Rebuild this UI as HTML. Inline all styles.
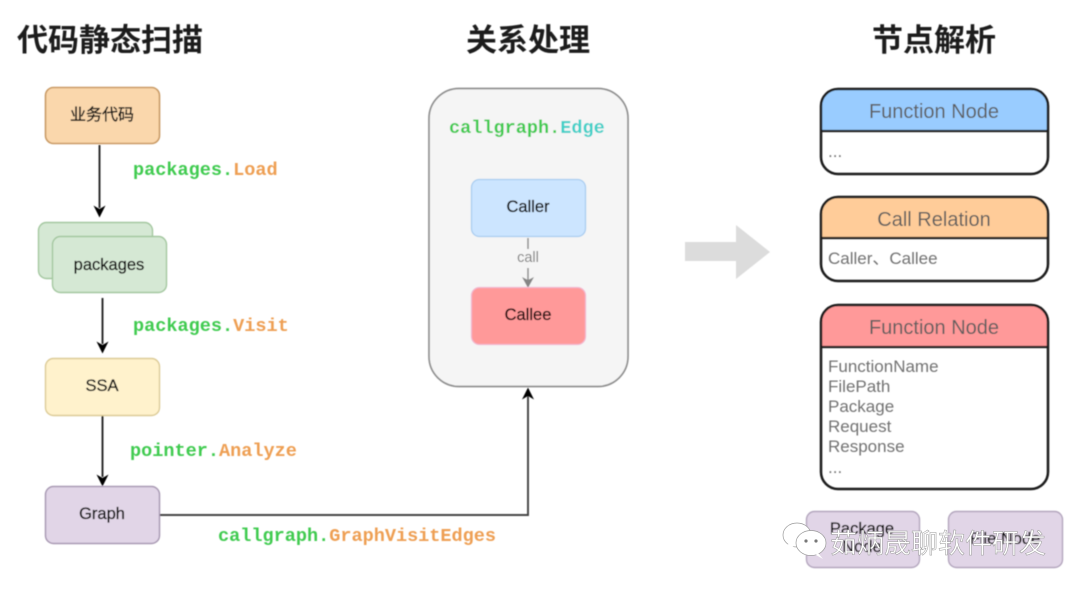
<!DOCTYPE html>
<html><head><meta charset="utf-8"><style>
html,body{margin:0;padding:0;background:#fff;width:1080px;height:590px;overflow:hidden}
svg{display:block}
text{font-family:"Liberation Sans","Noto Sans CJK SC",sans-serif}
.t{font-size:31px;font-weight:700;fill:#1c1c1c;text-anchor:middle;font-family:"Noto Sans CJK SC","Liberation Sans",sans-serif}
.m{font-family:"Liberation Mono",monospace;font-size:18.55px;font-weight:700}
.g{fill:#3fcb50}.o{fill:#ee9f52}.c{fill:#3fd0c8}
.n{font-size:16.5px;fill:#111;stroke:#111;stroke-width:.35px;text-anchor:middle}
.h{font-size:20px;fill:#5f5f5f;text-anchor:middle}
.b{font-size:17px;fill:#727272}
</style></head><body>
<svg width="1080" height="590" viewBox="0 0 1080 590" xmlns="http://www.w3.org/2000/svg">
<defs><filter id="s" x="-5%" y="-5%" width="110%" height="110%"><feGaussianBlur stdDeviation="0.45"/></filter></defs>
<rect width="1080" height="590" fill="#fff"/>
<g filter="url(#s)">
<text class="t" x="110" y="51">代码静态扫描</text>
<text class="t" x="528" y="51">关系处理</text>
<text class="t" x="934" y="51">节点解析</text>

<rect x="45.5" y="87.5" width="114" height="56" rx="8" fill="#fad7ac" stroke="#c99a63" stroke-width="1.6"/>
<text class="n" x="102" y="120" style="font-family:'Noto Sans CJK SC',sans-serif;font-size:16px">业务代码</text>
<path d="M99.5 145V208" stroke="#222" stroke-width="1.9" fill="none"/>
<path d="M93.5 205.500L99.5 209L105.500 205.500L99.5 217.500Z" fill="#000"/>
<text class="m" x="133" y="175"><tspan class="g">packages.</tspan><tspan class="o">Load</tspan></text>

<rect x="38.5" y="222.5" width="114" height="56" rx="8" fill="#d5e8d4" stroke="#a3c79f" stroke-width="1.4"/>
<rect x="52.5" y="236.5" width="114" height="56" rx="8" fill="#d5e8d4" stroke="#a3c79f" stroke-width="1.4"/>
<text class="n" x="109" y="270">packages</text>
<path d="M102.5 298V344" stroke="#222" stroke-width="1.9" fill="none"/>
<path d="M96.500 341.500L102.5 345L108.500 341.500L102.5 353.500Z" fill="#000"/>
<text class="m" x="133" y="331"><tspan class="g">packages.</tspan><tspan class="o">Visit</tspan></text>

<rect x="45.5" y="358.5" width="114" height="57" rx="8" fill="#fff2cc" stroke="#dccb96" stroke-width="1.4"/>
<text class="n" x="102" y="391">SSA</text>
<path d="M102.5 416V477" stroke="#222" stroke-width="1.9" fill="none"/>
<path d="M96.500 474.500L102.5 478L108.500 474.500L102.5 486.500Z" fill="#000"/>
<text class="m" x="130" y="456"><tspan class="g">pointer.</tspan><tspan class="o">Analyze</tspan></text>

<rect x="45.5" y="486.5" width="114" height="57" rx="8" fill="#e1d5e7" stroke="#a899b3" stroke-width="1.5"/>
<text class="n" x="102" y="519">Graph</text>
<path d="M160 515H528V396" stroke="#444" stroke-width="1.9" fill="none"/>
<path d="M522 399.500L528 396L534 399.500L528 387.500Z" fill="#000"/>
<text class="m" x="218" y="541"><tspan class="g">callgraph.</tspan><tspan class="o">GraphVisitEdges</tspan></text>

<rect x="429" y="88.5" width="199" height="298" rx="30" fill="#f5f5f5" stroke="#8f8f8f" stroke-width="1.7"/>
<text class="m" x="449" y="133"><tspan class="g">callgraph.</tspan><tspan class="c">Edge</tspan></text>
<rect x="471.5" y="179.5" width="114" height="57" rx="8" fill="#cce5ff" stroke="#a9cdf0" stroke-width="1.3"/>
<text class="n" x="528" y="212">Caller</text>
<path d="M528 238V249M528 268V281" stroke="#8a8a8a" stroke-width="1.5" fill="none"/>
<path d="M522 277L528 280L534 277L528 288Z" fill="#858585"/>
<text x="528" y="262" font-size="14.500" fill="#808080" text-anchor="middle">call</text>
<rect x="471.5" y="287.5" width="114" height="57" rx="8" fill="#ff9999" stroke="#f2b8d0" stroke-width="1.3"/>
<text class="n" x="528" y="320" style="fill:#2a0f0f;stroke:#2a0f0f">Callee</text>

<path d="M685 242H736V225L770 252L736 279V261H685Z" fill="#dcdcdc"/>

<path d="M821 131V106a17 17 0 0 1 17-17H1031a17 17 0 0 1 17 17V131Z" fill="#99ccff"/>
<rect x="821" y="89" width="227" height="85" rx="17" fill="none" stroke="#1a1a1a" stroke-width="2.5"/>
<path d="M821 131H1048" stroke="#1a1a1a" stroke-width="2.2"/>
<text class="h" x="934" y="118">Function Node</text>
<text class="b" x="828" y="157">...</text>

<path d="M821 238V214a17 17 0 0 1 17-17H1031a17 17 0 0 1 17 17V238Z" fill="#ffcc99"/>
<rect x="821" y="197" width="227" height="84" rx="17" fill="none" stroke="#1a1a1a" stroke-width="2.5"/>
<path d="M821 238H1048" stroke="#1a1a1a" stroke-width="2.2"/>
<text class="h" x="934" y="226">Call Relation</text>
<text class="b" x="828" y="264" style="font-family:'Liberation Sans','Noto Sans CJK SC',sans-serif">Caller、Callee</text>

<path d="M821 347V322a17 17 0 0 1 17-17H1031a17 17 0 0 1 17 17V347Z" fill="#ff9999"/>
<rect x="821" y="305" width="227" height="184" rx="17" fill="none" stroke="#1a1a1a" stroke-width="2.5"/>
<path d="M821 347H1048" stroke="#1a1a1a" stroke-width="2.2"/>
<text class="h" x="934" y="334">Function Node</text>
<text class="b" x="828" y="372">FunctionName</text>
<text class="b" x="828" y="392">FilePath</text>
<text class="b" x="828" y="412">Package</text>
<text class="b" x="828" y="432">Request</text>
<text class="b" x="828" y="452">Response</text>
<text class="b" x="828" y="473">...</text>

<rect x="806.5" y="511.5" width="113" height="56" rx="8" fill="#e1d5e7" stroke="#b3a5bd" stroke-width="1.4"/>
<text class="n" x="862" y="534">Package</text>
<text class="n" x="862" y="552">Node</text>
<rect x="948.5" y="511.5" width="114" height="56" rx="8" fill="#e1d5e7" stroke="#b3a5bd" stroke-width="1.4"/>
<text class="n" x="1005" y="544">File Node</text>
</g>

<g fill="#fff" stroke="#999" stroke-width="0.7">
<ellipse cx="797" cy="535" rx="14" ry="12"/>
<path d="M788 544L786 551L794 546Z" stroke="none"/>
<ellipse cx="811" cy="543" rx="15" ry="12.5"/>
<path d="M818 553L823 559L816 555Z" stroke="none"/>
</g>
<g fill="#777"><circle cx="806" cy="541" r="1.6"/><circle cx="816" cy="541" r="1.6"/></g>
<text x="830" y="553" font-size="27" fill="#fff" stroke="#9a9a9a" stroke-width="0.5" style="font-family:'Noto Sans CJK SC',sans-serif">茹炳晟聊软件研发</text>
</svg>
</body></html>
